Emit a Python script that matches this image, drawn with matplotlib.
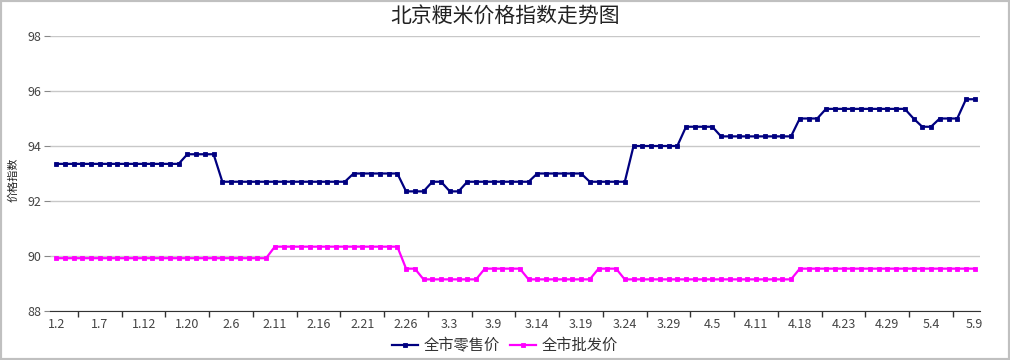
import numpy as np
import matplotlib
matplotlib.use('Agg')
import matplotlib.pyplot as plt
from matplotlib.patches import Rectangle
from matplotlib.ticker import FixedLocator

plt.rcParams['font.family'] = ['Noto Sans CJK SC', 'DejaVu Sans']

# 每隔5个交易日的日期标签
date_labels = ['1.2', '1.7', '1.12', '1.20', '2.6', '2.11', '2.16', '2.21', '2.26', '3.3', '3.9',
               '3.14', '3.19', '3.24', '3.29', '4.5', '4.11', '4.18', '4.23', '4.29', '5.4', '5.9']

# 全市零售价 (106个点)
retail = ([93.35] * 15 + [93.7] * 4 + [92.7] * 15 + [93.0] * 6 + [92.35] * 3 + [92.7] * 2 +
          [92.35] * 2 + [92.7] * 8 + [93.0] * 6 + [92.7] * 5 + [94.0] * 6 + [94.7] * 4 +
          [94.35] * 9 + [95.0] * 3 + [95.35] * 10 + [95.0] * 1 + [94.7] * 2 + [95.0] * 3 +
          [95.7] * 2)

# 全市批发价
wholesale = ([89.92] * 25 + [90.34] * 15 + [89.54] * 2 + [89.15] * 7 + [89.54] * 5 +
             [89.15] * 8 + [89.54] * 3 + [89.15] * 20 + [89.54] * 21)

series_names = ['全市零售价', '全市批发价']
series_colors = ['#000080', '#ff00ff']

fig = plt.figure(figsize=(10.1, 3.6), dpi=100)
ax = fig.add_axes([50 / 1010, 1 - 311 / 360, 930 / 1010, 275 / 360])

x = np.arange(len(retail))
for vals, name, color in zip([retail, wholesale], series_names, series_colors):
    ax.plot(x, vals, color=color, lw=1.6, marker='s', markersize=3.2,
            markeredgewidth=0.6, label=name)

ax.set_xlim(-0.7, 105.6)
ax.set_ylim(88, 98)
ax.set_yticks([88, 90, 92, 94, 96, 98])
ax.yaxis.grid(True, color='#c8c8c8', lw=1)
ax.set_axisbelow(True)

# x轴：标签在每5个点，刻度线在标签中间
ax.set_xticks(np.arange(0, len(retail), 5))
ax.set_xticklabels(date_labels)
ax.xaxis.set_minor_locator(FixedLocator(np.arange(2.5, len(retail) - 2, 5)))
ax.tick_params(axis='x', which='major', length=0, pad=5, labelsize=9, labelcolor='#444444')
ax.tick_params(axis='x', which='minor', length=4, color='#333333', width=1)
ax.tick_params(axis='y', length=4, color='#888888', labelsize=9, labelcolor='#444444', pad=2)

for side in ['top', 'right', 'left']:
    ax.spines[side].set_visible(False)
ax.spines['bottom'].set_color('#333333')

fig.text(0.008, 0.5, '价格指数', rotation=90, va='center', ha='left', fontsize=8, color='#222222')
fig.text(0.5, 0.955, '北京粳米价格指数走势图', ha='center', va='center', fontsize=15, color='#222222')

fig.legend(loc='center', ncol=2, frameon=False, bbox_to_anchor=(0.5, 0.04),
           fontsize=11, handlelength=1.7, columnspacing=0.7, handletextpad=0.35,
           labelcolor='#333333')

fig.patches.append(Rectangle((0, 0), 1, 1, transform=fig.transFigure, fill=False,
                             edgecolor='#c0c0c0', lw=3))

fig.savefig('out.png', dpi=100)
